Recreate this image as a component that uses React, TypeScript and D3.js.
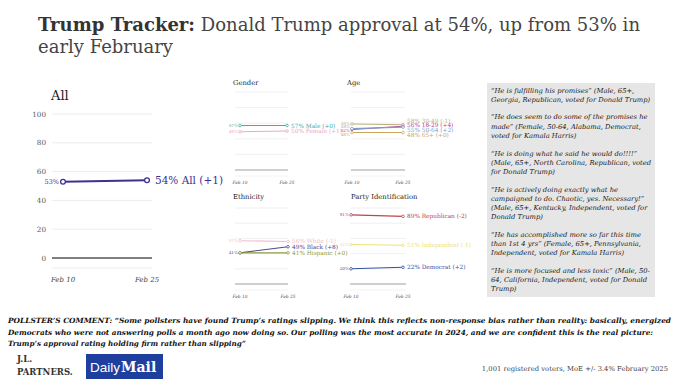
import React from "react";
import * as d3 from "d3";

// ---------- data ----------
const dates = ["Feb 10", "Feb 25"];
const yTicks = [0, 20, 40, 60, 80, 100];

const allName = "All";
const allValues = [53, 54];

const genderNames = ["Male", "Female"];
const genderFeb10 = [57, 49];
const genderFeb25 = [57, 50];

const ageNames = ["30-49", "18-29", "50-64", "65+"];
const ageFeb10 = [59, 52, 53, 48];
const ageFeb25 = [58, 56, 55, 48];

const ethnicityNames = ["White", "Black", "Hispanic"];
const ethnicityFeb10 = [57, 41, 41];
const ethnicityFeb25 = [56, 49, 41];

const partyNames = ["Republican", "Independent", "Democrat"];
const partyFeb10 = [91, 52, 20];
const partyFeb25 = [89, 51, 22];

const quotes = [
  ["\u201CHe is fulfilling his promises\u201D (Male, 65+,", "Georgia, Republican, voted for Donald Trump)"],
  ["\u201CHe does seem to do some of the promises he", "made\u201D (Female, 50-64, Alabama, Democrat,", "voted for Kamala Harris)"],
  ["\u201CHe is doing what he said he would do!!!!\u201D", "(Male, 65+, North Carolina, Republican, voted", "for Donald Trump)"],
  ["\u201CHe is actively doing exactly what he", "campaigned to do. Chaotic, yes. Necessary!\u201D", "(Male, 65+, Kentucky, Independent, voted for", "Donald Trump)"],
  ["\u201CHe has accomplished more so far this time", "than 1st 4 yrs\u201D (Female, 65+, Pennsylvania,", "Independent, voted for Kamala Harris)"],
  ["\u201CHe is more focused and less toxic\u201D (Male, 50-", "64, California, Independent, voted for Donald", "Trump)"],
];

const commentLines = [
  "POLLSTER\u2019S COMMENT: \u201CSome pollsters have found Trump\u2019s ratings slipping. We think this reflects non-response bias rather than reality: basically, energized",
  "Democrats who were not answering polls a month ago now doing so. Our polling was the most accurate in 2024, and we are confident this is the real picture:",
  "Trump\u2019s approval rating holding firm rather than slipping\u201D",
];

// ---------- styles ----------
const SERIF = "'DejaVu Serif', Georgia, serif";
const allColor = "#40308f";
const genderColors = ["#4aa9a6", "#eba9c7"];
const ageColors = ["#b9b07e", "#c4408c", "#7f9bd2", "#c9a75c"];
const ethnicityColors = ["#f2bccb", "#4c4a92", "#8c9c3c"];
const partyColors = ["#c4424c", "#ebe272", "#3452aa"];

function changeText(a: number, b: number) {
  const d = b - a;
  return d < 0 ? `${d}` : `+${d}`;
}

function dodge(ys: number[], gap: number): number[] {
  const pos = ys.slice();
  const idx = ys.map((_, i) => i).sort((a, b) => ys[a] - ys[b]);
  for (let it = 0; it < 100; it++) {
    let moved = false;
    for (let k = 1; k < idx.length; k++) {
      const a = idx[k - 1], b = idx[k];
      const d = pos[b] - pos[a];
      if (d < gap - 0.01) {
        const s = (gap - d) / 2;
        pos[a] -= s;
        pos[b] += s;
        moved = true;
      }
    }
    if (!moved) break;
  }
  return pos;
}

type PanelProps = {
  title: string;
  titleX: number;
  titleY: number;
  gx0: number;
  gx1: number;
  px0: number;
  px1: number;
  yZero: number;
  yTop: number;
  names: string[];
  v0: number[];
  v1: number[];
  colors: string[];
};

function SmallPanel(p: PanelProps) {
  const x = d3.scalePoint<string>().domain(dates).range([p.px0, p.px1]);
  const y = d3.scaleLinear().domain([0, 100]).range([p.yZero, p.yTop]);
  const line = d3
    .line<number>()
    .x((_, i) => x(dates[i]) as number)
    .y((d) => y(d));
  const rightY = dodge(p.v1.map((v) => y(v)), 4.6);
  const seen = new Set<number>();
  const leftIdx = p.v0.map((v, i) => i).filter((i) => {
    if (seen.has(p.v0[i])) return false;
    seen.add(p.v0[i]);
    return true;
  });
  const leftY = dodge(leftIdx.map((i) => y(p.v0[i])), 3.6);
  return (
    <g>
      <text x={p.titleX} y={p.titleY} fontFamily={SERIF} fontSize={6.8} fill="#222">
        {p.title}
      </text>
      {yTicks.filter((t) => t !== 0).map((t) => (
        <line key={t} x1={p.gx0} x2={p.gx1} y1={y(t)} y2={y(t)} stroke="#ececec" strokeWidth={0.8} />
      ))}
      <line x1={p.gx0} x2={p.gx1} y1={y(0)} y2={y(0)} stroke="#a0a0a0" strokeWidth={1.2} />
      <line x1={p.gx0} x2={p.gx1} y1={y(0) + 6} y2={y(0) + 6} stroke="#f0f0f0" strokeWidth={0.8} />
      {dates.map((d) => (
        <text key={d} x={x(d)} y={y(0) + 14} textAnchor="middle" fontFamily={SERIF} fontStyle="italic" fontSize={4.4} fill="#555">
          {d}
        </text>
      ))}
      {p.names.map((n, i) => (
        <g key={n}>
          <path d={line([p.v0[i], p.v1[i]]) || ""} fill="none" stroke={p.colors[i]} strokeWidth={1.1} />
          {[p.v0[i], p.v1[i]].map((v, j) => (
            <circle key={j} cx={x(dates[j])} cy={y(v)} r={1.3} fill="#fff" stroke={p.colors[i]} strokeWidth={0.8} />
          ))}
          <text x={p.px1 + 4} y={rightY[i]} dy="0.35em" fontFamily={SERIF} fontSize={5.8} fill={p.colors[i]}>
            {`${p.v1[i]}% ${n} (${changeText(p.v0[i], p.v1[i])})`}
          </text>
        </g>
      ))}
      {leftIdx.map((i, k) => (
        <text key={i} x={p.px0 - 2} y={leftY[k]} dy="0.35em" textAnchor="end" fontFamily={SERIF} fontSize={4.2} fill={p.colors[i]}>
          {`${p.v0[i]}%`}
        </text>
      ))}
    </g>
  );
}

function MainChart() {
  const x = d3.scalePoint<string>().domain(dates).range([63, 147]);
  const y = d3.scaleLinear().domain([0, 100]).range([258, 114]);
  const line = d3
    .line<number>()
    .x((_, i) => x(dates[i]) as number)
    .y((d) => y(d));
  return (
    <g>
      <text x={51} y={100} fontFamily={SERIF} fontSize={13} fill="#222">{allName}</text>
      {yTicks.map((t) => (
        <g key={t}>
          {t !== 0 && <line x1={52} x2={152} y1={y(t)} y2={y(t)} stroke="#ececec" strokeWidth={1} />}
          <text x={46} y={y(t)} dy="0.35em" textAnchor="end" fontFamily={SERIF} fontSize={7.2} fill="#555">{t}</text>
        </g>
      ))}
      <line x1={52} x2={152} y1={y(0)} y2={y(0)} stroke="#555" strokeWidth={1.3} />
      <line x1={52} x2={152} y1={y(0) + 10} y2={y(0) + 10} stroke="#ececec" strokeWidth={1} />
      {dates.map((d) => (
        <text key={d} x={x(d)} y={282} textAnchor="middle" fontFamily={SERIF} fontStyle="italic" fontSize={7} fill="#444">{d}</text>
      ))}
      <path d={line(allValues) || ""} fill="none" stroke={allColor} strokeWidth={2} />
      {allValues.map((v, j) => (
        <circle key={j} cx={x(dates[j])} cy={y(v)} r={2.4} fill="#fff" stroke={allColor} strokeWidth={1.3} />
      ))}
      <text x={(x(dates[0]) as number) - 4} y={y(allValues[0])} dy="0.35em" textAnchor="end" fontFamily={SERIF} fontSize={6.5} fill={allColor}>
        {`${allValues[0]}%`}
      </text>
      <text x={(x(dates[1]) as number) + 8} y={y(allValues[1])} dy="0.35em" fontFamily={SERIF} fontSize={10.5} fill={allColor}>
        {`${allValues[1]}% ${allName} (${changeText(allValues[0], allValues[1])})`}
      </text>
    </g>
  );
}

function QuoteBox() {
  const lineStep = 9.2;
  const gap = 8.5;
  let yCur = 92.5;
  const rows: { t: string; y: number }[] = [];
  quotes.forEach((q, qi) => {
    if (qi > 0) yCur += gap;
    q.forEach((l) => {
      rows.push({ t: l, y: yCur });
      yCur += lineStep;
    });
  });
  return (
    <g>
      <rect x={487} y={83} width={168} height={214} fill="#e6e6e6" />
      {rows.map((r, i) => (
        <text key={i} x={491} y={r.y} fontFamily={SERIF} fontStyle="italic" fontSize={6.75} fill="#1a1a1a">{r.t}</text>
      ))}
    </g>
  );
}

export default function App() {
  return (
    <svg width={680} height={383} style={{ position: "absolute", left: 0, top: 0, background: "#fff" }}>
      <rect width={680} height={383} fill="#fff" />
      <text x={38} y={31} fontFamily={SERIF} fontSize={18} fill="#444" textLength={602} lengthAdjust="spacingAndGlyphs">
        <tspan fontWeight={700} fill="#333">Trump Tracker:</tspan>
        <tspan> Donald Trump approval at 54%, up from 53% in</tspan>
      </text>
      <text x={38} y={53} fontFamily={SERIF} fontSize={18} fill="#444">early February</text>

      <MainChart />

      <SmallPanel title="Gender" titleX={233} titleY={85} gx0={235} gx1={288} px0={240} px1={287} yZero={170} yTop={92}
        names={genderNames} v0={genderFeb10} v1={genderFeb25} colors={genderColors} />
      <SmallPanel title="Age" titleX={347} titleY={85} gx0={351} gx1={405} px0={352} px1={403} yZero={170} yTop={92}
        names={ageNames} v0={ageFeb10} v1={ageFeb25} colors={ageColors} />
      <SmallPanel title="Ethnicity" titleX={233} titleY={199} gx0={235} gx1={288} px0={240} px1={288} yZero={284} yTop={208}
        names={ethnicityNames} v0={ethnicityFeb10} v1={ethnicityFeb25} colors={ethnicityColors} />
      <SmallPanel title="Party Identification" titleX={351} titleY={199} gx0={350} gx1={406} px0={351} px1={403} yZero={284} yTop={208}
        names={partyNames} v0={partyFeb10} v1={partyFeb25} colors={partyColors} />

      <QuoteBox />

      {commentLines.map((l, i) => (
        <text key={i} x={8} y={323 + i * 11.5} fontFamily={SERIF} fontStyle="italic" fontWeight={700} fontSize={7.2} fill="#111"
          textLength={i === 0 ? 663 : i === 1 ? 645 : undefined} lengthAdjust="spacingAndGlyphs">
          {l}
        </text>
      ))}

      <text x={17} y={362} fontFamily={SERIF} fontWeight={700} fontSize={8.5} fill="#333">J.L.</text>
      <text x={17} y={375} fontFamily={SERIF} fontWeight={700} fontSize={8.5} fill="#333">PARTNERS.</text>
      <rect x={86} y={354} width={77} height={25} fill="#1f3f9f" />
      <text x={90} y={372} fontFamily="'Liberation Sans', Arial, sans-serif" fontSize={13.5} fill="#fff">Daily</text>
      <text x={121} y={372} fontFamily={SERIF} fontWeight={700} fontSize={14} fill="#fff">Mail</text>
      <text x={668} y={371} textAnchor="end" fontFamily={SERIF} fontSize={6.8} fill="#444">
        1,001 registered voters, MoE +/- 3.4% February 2025
      </text>
    </svg>
  );
}
